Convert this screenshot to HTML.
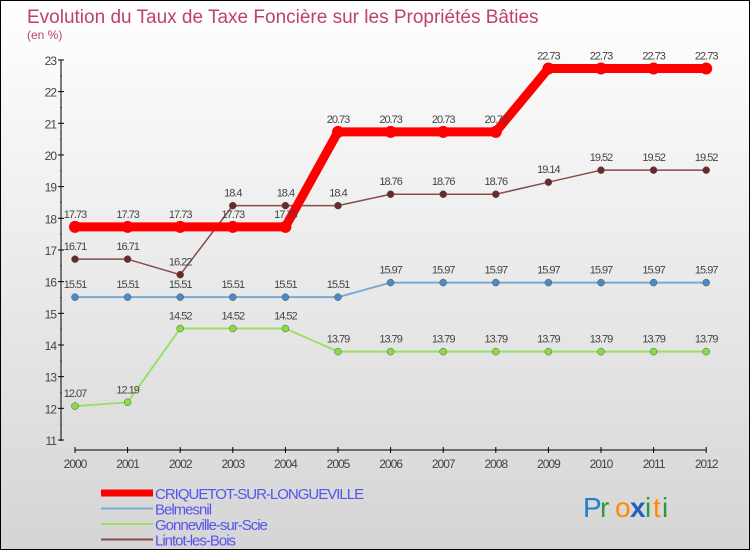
<!DOCTYPE html>
<html><head><meta charset="utf-8"><style>
html,body{margin:0;padding:0}
body{width:750px;height:550px;overflow:hidden;font-family:"Liberation Sans",sans-serif}
#wrap{position:absolute;left:0;top:0;width:748px;height:548px;border:1px solid #000;background:linear-gradient(#ffffff,#d5d5d5)}
</style></head><body>
<div id="wrap">
<svg id="chart" width="748" height="548" style="position:absolute;left:0;top:0"></svg>
</div>
<script>
const years=[2000,2001,2002,2003,2004,2005,2006,2007,2008,2009,2010,2011,2012];
const criquetot=[17.73,17.73,17.73,17.73,17.73,20.73,20.73,20.73,20.73,22.73,22.73,22.73,22.73];
const belmesnil=[15.51,15.51,15.51,15.51,15.51,15.51,15.97,15.97,15.97,15.97,15.97,15.97,15.97];
const gonneville=[12.07,12.19,14.52,14.52,14.52,13.79,13.79,13.79,13.79,13.79,13.79,13.79,13.79];
const lintot=[16.71,16.71,16.22,18.4,18.4,18.4,18.76,18.76,18.76,19.14,19.52,19.52,19.52];
const yTicks=[11,12,13,14,15,16,17,18,19,20,21,22,23];
const NS="http://www.w3.org/2000/svg";
const svg=document.getElementById('chart');
const X=i=>74+i*52.6;
const Y=v=>439-(v-11)*31.67;
function mk(t,a,p){const e=document.createElementNS(NS,t);for(const k in a)e.setAttribute(k,a[k]);(p||svg).appendChild(e);return e;}
function txt(x,y,s,a){const e=mk('text',Object.assign({x:x,y:y},a));e.textContent=s;return e;}
let t=txt(26,22,'Evolution du Taux de Taxe Foncière sur les Propriétés Bâties',{fill:'#c0406a','font-size':19});

t=txt(26,38,'(en %)',{fill:'#c0406a','font-size':12});

let ax=mk('line',{x1:60,y1:Y(23),x2:60,y2:Y(11)+1,stroke:'#000','stroke-width':1});

yTicks.forEach(v=>{
  mk('line',{x1:57,x2:63,y1:Y(v),y2:Y(v),stroke:'#000'});
  if(v<23)mk('line',{x1:59,x2:61,y1:Y(v+0.5),y2:Y(v+0.5),stroke:'#f00'});
  const l=txt(55,Y(v)+5,String(v),{'text-anchor':'end','font-size':12,fill:'#444','letter-spacing':'-1'});
  
});
ax=mk('line',{x1:X(0),x2:X(12),y1:449,y2:449,stroke:'#000'});

years.forEach((yr,i)=>{
  mk('line',{x1:X(i),x2:X(i),y1:446,y2:452,stroke:'#000'});
  const l=txt(X(i),467,String(yr),{'text-anchor':'middle','font-size':12,fill:'#444','letter-spacing':'-1'});
  
});
function series(vals,color,w,r,mfill,name){
  const g=mk('g',{});
  
  mk('polyline',{points:vals.map((v,i)=>X(i)+','+Y(v)).join(' '),fill:'none',stroke:color,'stroke-width':w,'stroke-linejoin':'round'},g);
  vals.forEach((v,i)=>{
    const c=mk('circle',{cx:X(i),cy:Y(v),r:r,fill:mfill,stroke:w>4?'none':'#555','stroke-width':0.5},g);
    
    const l=txt(X(i),Y(v)-9,String(v),{'text-anchor':'middle','font-size':11,fill:'#444','letter-spacing':'-1'},g);
    
  });
}
series(gonneville,'#99e066',2,3.5,'#88dd44','series-gonneville');
series(belmesnil,'#7aaad0',2,3.5,'#4a8ac8','series-belmesnil');
series(lintot,'#8a4a4a',1.5,3.5,'#6a2a2a','series-lintot');
series(criquetot,'#f00',9,6,'#f00','series-criquetot');
const legend=[['CRIQUETOT-SUR-LONGUEVILLE','#f00',7],['Belmesnil','#7aaad0',2],['Gonneville-sur-Scie','#99e066',2],['Lintot-les-Bois','#8a4a4a',2]];
legend.forEach((e,i)=>{
  const g=mk('g',{});
  
  const y=492+i*15.5;
  mk('line',{x1:100,x2:152,y1:y,y2:y,stroke:e[1],'stroke-width':e[2]},g);
  txt(154,y+6,e[0],{'font-size':15,fill:'#5555ee','letter-spacing':'-1'},g);
});
const lg=mk('g',{});

[['P','#1e7fd0'],['r','#2a9a3a'],['o','#ff8a00'],['x','#1e5fc0'],['i','#2a9a3a'],['t','#ff8a00'],['i','#2a9a3a']].reduce((x,c)=>{
  txt(x,516,c[0],{'font-size':28,fill:c[1],'font-weight':c[0]=='x'?'bold':'normal'},lg);
  return x+(c[0]=='P'?17:c[0]=='i'?8:c[0]=='t'?9:15);
},582);
</script>
</body></html>
